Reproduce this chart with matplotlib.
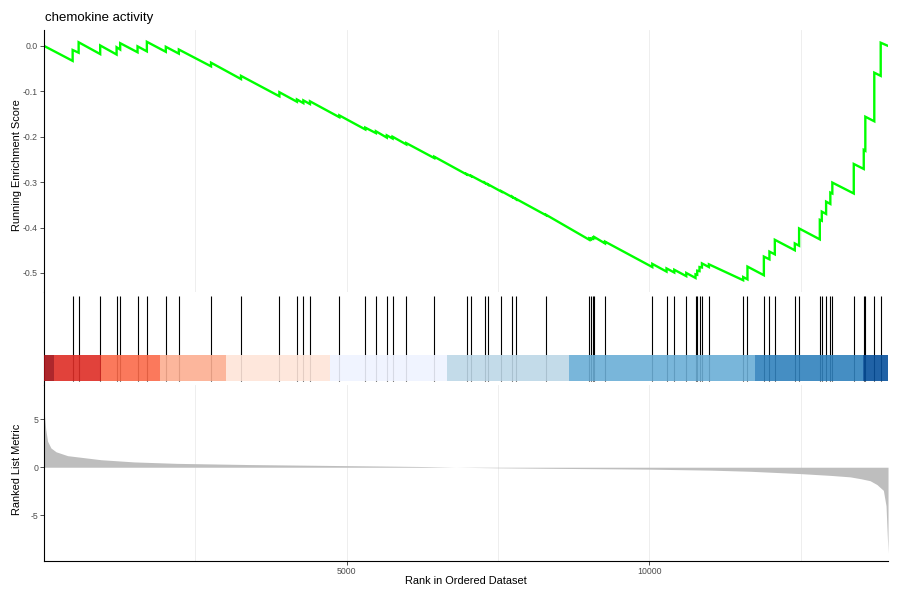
import matplotlib
matplotlib.use("Agg")
import matplotlib.pyplot as plt

plt.rcParams['font.family'] = ['Liberation Sans', 'DejaVu Sans']
plt.rcParams['axes.unicode_minus'] = False

# values
title = "chemokine activity"
n_genes = 13943

hit_rank = [474, 573, 929, 1200, 1259, 1546, 1700, 2013, 2228, 2760,
            3255, 3889, 4179, 4285, 4394, 4879, 5308, 5483, 5664, 5759,
            5985, 6447, 6980, 7057, 7281, 7338, 7557, 7734, 7800, 8295,
            9009, 9037, 9070, 9092, 9268, 10049, 10284, 10412, 10610, 10763,
            10791, 10829, 10869, 10984, 11550, 11621, 11892, 11984, 12073, 12403,
            12474, 12816, 12849, 12920, 12990, 13023, 13377, 13542, 13568, 13716,
            13822]

# running enrichment score just before / just after each hit
es_before = [-0.033, -0.015, -0.018, -0.019, -0.008, -0.014, -0.012, -0.013, -0.017, -0.045,
             -0.073, -0.111, -0.123, -0.126, -0.128, -0.157, -0.184, -0.192, -0.202, -0.204,
             -0.217, -0.247, -0.283, -0.287, -0.302, -0.306, -0.321, -0.333, -0.338, -0.373,
             -0.427, -0.426, -0.425, -0.423, -0.435, -0.487, -0.497, -0.499, -0.507, -0.511,
             -0.504, -0.496, -0.488, -0.487, -0.516, -0.514, -0.505, -0.470, -0.459, -0.450,
             -0.440, -0.426, -0.385, -0.370, -0.348, -0.325, -0.325, -0.271, -0.231, -0.166,
             -0.066]
es_after = [-0.009, 0.008, 0.001, -0.003, 0.006, -0.001, 0.009, -0.002, -0.008, -0.037,
            -0.066, -0.102, -0.118, -0.120, -0.122, -0.153, -0.180, -0.188, -0.197, -0.200,
            -0.214, -0.244, -0.282, -0.286, -0.301, -0.305, -0.320, -0.332, -0.337, -0.372,
            -0.424, -0.424, -0.422, -0.421, -0.431, -0.480, -0.490, -0.493, -0.500, -0.503,
            -0.495, -0.487, -0.479, -0.481, -0.509, -0.486, -0.464, -0.453, -0.427, -0.435,
            -0.402, -0.383, -0.365, -0.343, -0.323, -0.301, -0.260, -0.229, -0.156, -0.059,
            0.007]
es_start = 0.0
es_end = 0.0

metric_rank = [1, 10, 30, 60, 115, 200, 390, 940, 1490, 2200,
               3360, 4500, 5500, 6300, 6800, 7500, 8500, 9500, 10000, 11000,
               11667, 12492, 13000, 13317, 13500, 13647, 13760, 13866, 13910, 13943]
metric_value = [7.7, 5.3, 3.9, 2.7, 2.0, 1.6, 1.2, 0.78, 0.55, 0.4,
                0.28, 0.2, 0.13, 0.07, 0.0, -0.06, -0.12, -0.17, -0.2, -0.3,
                -0.42, -0.66, -0.85, -1.0, -1.2, -1.4, -1.8, -2.4, -4.0, -8.9]

band_edges = [0, 160, 945, 1914, 3003, 4724, 6650, 8674, 11748, 13525, 13943]
band_colors = ["#A50F15", "#DE2D26", "#FB6A4A", "#FCAE91", "#FEE5D9",
               "#EFF3FF", "#BDD7E7", "#6BAED6", "#3182BD", "#08519C"]

es_ticks = [0.0, -0.1, -0.2, -0.3, -0.4, -0.5]
metric_ticks = [5, 0, -5]
rank_ticks = [5000, 10000]
rank_minor = [2500, 7500, 12500]

TICK_COL = "#4D4D4D"
GRID_COL = "#EBEBEB"


def style_axis(ax, show_bottom=False):
    for side in ["top", "right"]:
        ax.spines[side].set_visible(False)
    ax.spines["bottom"].set_visible(show_bottom)
    ax.spines["left"].set_linewidth(0.8)
    ax.spines["bottom"].set_linewidth(0.8)
    ax.set_xlim(1, n_genes)
    ax.set_xticks(rank_ticks)
    ax.set_xticks(rank_minor, minor=True)
    ax.tick_params(axis="both", which="both", colors="#333333", labelcolor=TICK_COL,
                   labelsize=6.3, length=2.7, width=0.6, pad=1.6)
    ax.tick_params(axis="x", which="minor", length=0)


fig = plt.figure(figsize=(9, 6), dpi=100)
left, width = 0.0489, 0.9378
ax1 = fig.add_axes([left, 0.5133, width, 0.4367])
ax2 = fig.add_axes([left, 0.3583, width, 0.155])
ax3 = fig.add_axes([left, 0.065, width, 0.2933])

# running enrichment score
xs, ys = [1], [es_start]
for r, b, a in zip(hit_rank, es_before, es_after):
    xs += [r, r]
    ys += [b, a]
xs.append(n_genes)
ys.append(es_end)
style_axis(ax1)
ax1.grid(axis="x", which="both", color=GRID_COL, linewidth=0.6)
ax1.set_axisbelow(True)
ax1.plot(xs, ys, color="#00FF00", linewidth=1.7, solid_joinstyle="miter")
ax1.set_ylim(-0.542, 0.035)
ax1.set_yticks(es_ticks)
ax1.set_yticklabels([f"{t:.1f}" for t in es_ticks])
ax1.tick_params(axis="x", which="both", length=0, labelbottom=False)

# hit positions and colour bar (bar drawn over the lines, slightly see-through)
style_axis(ax2)
ax2.vlines(hit_rank, 0, 1, color="black", linewidth=0.8, zorder=2)
for lo, hi, col in zip(band_edges[:-1], band_edges[1:], band_colors):
    ax2.bar(lo, 0.3, width=hi - lo, bottom=0, align="edge", color=col, alpha=0.9,
            linewidth=0, zorder=3)
ax2.set_ylim(-0.05, 1.05)
ax2.set_yticks([])
ax2.tick_params(axis="x", which="both", length=0, labelbottom=False)

# ranked list metric
style_axis(ax3, show_bottom=True)
ax3.grid(axis="x", which="both", color=GRID_COL, linewidth=0.6)
ax3.set_axisbelow(True)
ax3.fill_between(metric_rank, 0, metric_value, color="#BEBEBE", linewidth=0)
ax3.set_ylim(-9.73, 8.53)
ax3.set_yticks(metric_ticks)

fig.text(0.05, 0.97, title, ha="left", va="center", fontsize=9.5, color="black")
fig.text(0.0185, 0.725, "Running Enrichment Score", rotation=90, ha="center", va="center", fontsize=7.9)
fig.text(0.0185, 0.217, "Ranked List Metric", rotation=90, ha="center", va="center", fontsize=7.9)
fig.text(0.518, 0.031, "Rank in Ordered Dataset", ha="center", va="center", fontsize=7.9)

fig.savefig("out.png", dpi=100)
